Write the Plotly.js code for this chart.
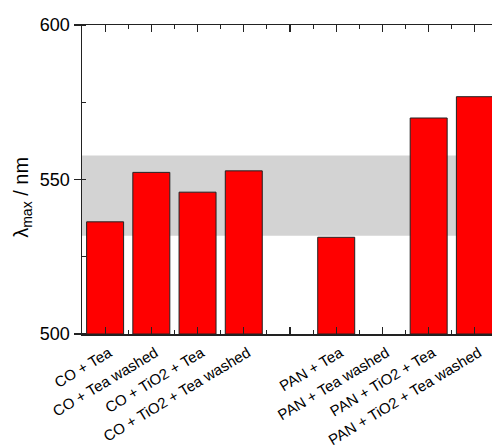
<!DOCTYPE html>
<html>
<head>
<meta charset="utf-8">
<script src="https://cdn.plot.ly/plotly-3.0.1.min.js"></script>
<style>
html,body{margin:0;padding:0;overflow:hidden;background:#fff;}
#chart{width:498px;height:445px;}
</style>
</head>
<body>
<div id="chart"></div>
<script>
// Categories (empty slot separates the CO and PAN groups)
const categories = ["CO + Tea", "CO + Tea washed", "CO + TiO2 + Tea", "CO + TiO2 + Tea washed", "",
                    "PAN + Tea", "PAN + Tea washed", "PAN + TiO2 + Tea", "PAN + TiO2 + Tea washed"];
// λmax values in nm (null = no bar)
const lambdaMax = [536.3, 552.3, 545.9, 552.8, null, 531.3, null, 569.9, 576.8];
// Grey reference band (nm)
const bandRange = [531.8, 557.8];
const yTicks = [500, 550, 600];

const xIdx = categories.map((c, i) => i);

const trace = {
  type: 'bar',
  x: xIdx,
  y: lambdaMax.map(v => v === null ? null : v - 500),
  base: 500,
  width: 0.8,
  marker: {color: '#ff0000', line: {color: '#222222', width: 1}},
  hoverinfo: 'skip'
};

const layout = {
  width: 498, height: 445,
  margin: {l: 82, r: 0, t: 25, b: 111},
  paper_bgcolor: '#ffffff', plot_bgcolor: '#ffffff',
  showlegend: false,
  font: {family: 'Liberation Sans, Arial, sans-serif', color: '#000'},
  xaxis: {
    type: 'linear',
    range: [-0.5, 8.5],
    tickmode: 'array', tickvals: xIdx, ticktext: categories,
    tickangle: -31,
    tickfont: {size: 15, color: '#000'},
    ticklabelshift: 4, ticklabelstandoff: 3,
    ticks: 'inside', ticklen: 7, tickwidth: 1.2, tickcolor: '#222',
    minor: {tickmode: 'array', tickvals: xIdx.slice(0, 8).map(i => i + 0.5),
            ticks: 'inside', ticklen: 4, tickwidth: 1.2, tickcolor: '#222'},
    showline: true, linecolor: '#222', linewidth: 1.5, mirror: 'ticks',
    showgrid: false, zeroline: false, fixedrange: true
  },
  yaxis: {
    range: [500, 600],
    tickmode: 'array', tickvals: yTicks,
    tickfont: {size: 18, color: '#000'},
    ticks: 'outside', ticklen: 7, tickwidth: 1.2, tickcolor: '#222',
    minor: {dtick: 25, tick0: 500, ticks: 'inside', ticklen: 4, tickwidth: 1.2, tickcolor: '#222'},
    showline: true, linecolor: '#222', linewidth: 1.5, mirror: true,
    showgrid: false, zeroline: false, fixedrange: true
  },
  annotations: [{
    text: 'λ<sub>max</sub> / nm', textangle: -90,
    xref: 'paper', yref: 'paper', x: -0.145, y: 0.443,
    xanchor: 'center', yanchor: 'middle', showarrow: false,
    font: {size: 20, color: '#000'}
  }],
  shapes: [{
    type: 'rect', xref: 'paper', yref: 'y', x0: 0, x1: 1,
    y0: bandRange[0], y1: bandRange[1],
    fillcolor: '#d3d3d3', line: {width: 0}, layer: 'below'
  }]
};

Plotly.newPlot('chart', [trace], layout, {displayModeBar: false, staticPlot: true});
</script>
</body>
</html>
